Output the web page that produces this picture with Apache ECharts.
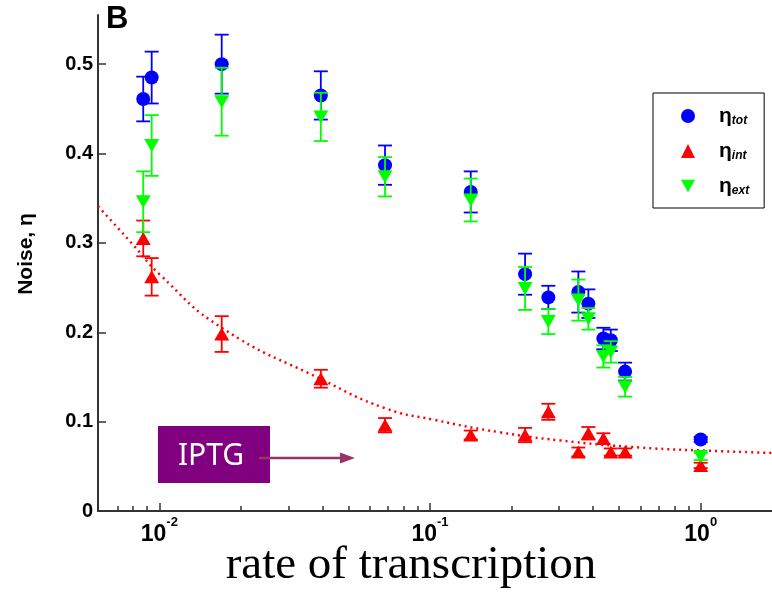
<!DOCTYPE html>
<html>
<head>
<meta charset="utf-8">
<script src="https://cdn.jsdelivr.net/npm/echarts@6/dist/echarts.min.js"></script>
<style>
  html, body { margin: 0; padding: 0; background: #fff; }
  #chart { width: 772px; height: 592px; }
</style>
</head>
<body>
<div id="chart"></div>
<script>
// rate of transcription (shared by the three noise series)
var rate = [0.00872, 0.00937, 0.0170, 0.0395, 0.0682, 0.1414, 0.2245, 0.2736, 0.3532, 0.3846, 0.4369, 0.4654, 0.5256, 1.0];

var etaTot = [0.461, 0.485, 0.500, 0.465, 0.387, 0.357, 0.265, 0.239, 0.245, 0.232, 0.193, 0.191, 0.156, 0.080];
var etaTotErr = [0.025, 0.029, 0.033, 0.027, 0.022, 0.023, 0.023, 0.013, 0.023, 0.016, 0.012, 0.012, 0.010, 0.003];

var etaInt = [0.305, 0.262, 0.198, 0.148, 0.096, 0.085, 0.085, 0.111, 0.066, 0.087, 0.081, 0.066, 0.066, 0.051];
var etaIntErr = [0.020, 0.021, 0.020, 0.010, 0.008, 0.005, 0.008, 0.009, 0.005, 0.007, 0.006, 0.004, 0.004, 0.003];

var etaExt = [0.346, 0.409, 0.458, 0.441, 0.374, 0.348, 0.249, 0.212, 0.236, 0.215, 0.173, 0.178, 0.139, 0.061];
var etaExtErr = [0.034, 0.034, 0.038, 0.027, 0.022, 0.024, 0.024, 0.014, 0.023, 0.012, 0.0125, 0.012, 0.011, 0.004];

// dotted fit curve for eta_int
var fitRate = [0.00594, 0.00799, 0.0100, 0.0170, 0.0399, 0.0682, 0.1036, 0.1817, 0.302, 0.597, 1.18, 1.83];
var fitEta = [0.341, 0.298, 0.265, 0.205, 0.147, 0.115, 0.102, 0.088, 0.079, 0.071, 0.067, 0.065];

var yTicks = [0, 0.1, 0.2, 0.3, 0.4, 0.5];
var xMajor = [0.01, 0.1, 1];
var xMinor = [0.007, 0.008, 0.009, 0.02, 0.03, 0.04, 0.05, 0.06, 0.07, 0.08, 0.09,
              0.2, 0.3, 0.4, 0.5, 0.6, 0.7, 0.8, 0.9];

var subNames = { "η_tot": "tot", "η_int": "int", "η_ext": "ext" };
var downTri = "path://M0,0L10,0L5,9Z";

function zip(x, y) {
  return x.map(function (v, i) { return [v, y[i]]; });
}
function errRows(x, y, e) {
  return x.map(function (v, i) { return [v, y[i] - e[i], y[i] + e[i]]; });
}
function errorBar(color) {
  return function (params, api) {
    var x = api.value(0);
    var lo = api.coord([x, api.value(1)]);
    var hi = api.coord([x, api.value(2)]);
    var w = 7;
    var style = { stroke: color, lineWidth: 1.8 };
    return {
      type: "group",
      children: [
        { type: "line", shape: { x1: lo[0], y1: lo[1], x2: hi[0], y2: hi[1] }, style: style },
        { type: "line", shape: { x1: lo[0] - w, y1: lo[1], x2: lo[0] + w, y2: lo[1] }, style: style },
        { type: "line", shape: { x1: hi[0] - w, y1: hi[1], x2: hi[0] + w, y2: hi[1] }, style: style }
      ]
    };
  };
}

var chart = echarts.init(document.getElementById("chart"));

var option = {
  backgroundColor: "#fff",
  animation: false,
  grid: { left: 98, right: 0, top: 15, bottom: 81 },
  legend: {
    orient: "vertical",
    left: 653,
    top: 93,
    borderColor: "#000",
    borderWidth: 1,
    padding: [12, 15, 11, 28],
    itemGap: 13,
    itemWidth: 14,
    itemHeight: 14,
    data: [
      { name: "η_tot", icon: "circle" },
      { name: "η_int", icon: "triangle" },
      { name: "η_ext", icon: downTri }
    ],
    formatter: function (name) {
      return "{e|η}{s|" + subNames[name] + "}";
    },
    textStyle: {
      padding: [0, 0, 0, 19],
      rich: {
        e: { fontFamily: "Liberation Sans", fontSize: 21, fontWeight: "bold", color: "#000", lineHeight: 22 },
        s: { fontFamily: "Liberation Sans", fontSize: 12, fontWeight: "bold", fontStyle: "italic", color: "#000",
             lineHeight: 12, verticalAlign: "bottom", padding: [10, 0, 0, 0] }
      }
    }
  },
  xAxis: [
    {
      type: "log",
      logBase: 10,
      position: "bottom",
      min: 0.005935,
      max: 1.834,
      axisLine: { lineStyle: { color: "#333", width: 2 } },
      axisTick: { inside: true, length: 8, lineStyle: { color: "#333", width: 1.5 }, customValues: xMajor },
      splitLine: { show: false },
      axisLabel: {
        customValues: xMajor,
        margin: 5,
        formatter: function (v) {
          return "{b|10}{s|" + Math.round(Math.log10(v)) + "}";
        },
        rich: {
          b: { fontFamily: "Liberation Sans", fontSize: 23, fontWeight: "bold", color: "#000", lineHeight: 30, verticalAlign: "bottom" },
          s: { fontFamily: "Liberation Sans", fontSize: 13, fontWeight: "bold", color: "#000", lineHeight: 13, verticalAlign: "top" }
        }
      }
    },
    {
      type: "log",
      logBase: 10,
      position: "bottom",
      offset: 0,
      min: 0.005935,
      max: 1.834,
      axisLine: { show: false },
      axisTick: { inside: true, length: 5, lineStyle: { color: "#333", width: 1.5 }, customValues: xMinor },
      axisLabel: { show: false },
      splitLine: { show: false }
    }
  ],
  yAxis: {
    type: "value",
    min: 0,
    max: 0.555,
    axisLine: { show: true, lineStyle: { color: "#333", width: 2 } },
    axisTick: { show: true, inside: true, length: 8, lineStyle: { color: "#333", width: 1.5 }, customValues: yTicks },
    splitLine: { show: false },
    axisLabel: {
      customValues: yTicks,
      margin: 5,
      fontFamily: "Liberation Sans",
      fontSize: 20,
      fontWeight: "bold",
      color: "#000",
      formatter: function (v) { return v === 0 ? "0" : v.toFixed(1); }
    }
  },
  series: [
    {
      type: "line",
      name: "fit",
      data: zip(fitRate, fitEta),
      smooth: true,
      showSymbol: false,
      symbol: "none",
      lineStyle: { color: "#ff0000", width: 2.5, type: [2, 4] },
      z: 1
    },
    {
      type: "custom",
      name: "tot err",
      data: errRows(rate, etaTot, etaTotErr),
      encode: { x: 0, y: [1, 2] },
      renderItem: errorBar("#0000ff"),
      z: 2
    },
    {
      type: "scatter",
      name: "η_tot",
      data: zip(rate, etaTot),
      symbol: "circle",
      symbolSize: 14,
      itemStyle: { color: "#0000ff", opacity: 1 },
      z: 3
    },
    {
      type: "custom",
      name: "int err",
      data: errRows(rate, etaInt, etaIntErr),
      encode: { x: 0, y: [1, 2] },
      renderItem: errorBar("#ff0000"),
      z: 4
    },
    {
      type: "scatter",
      name: "η_int",
      data: zip(rate, etaInt),
      symbol: "triangle",
      symbolSize: [15, 13],
      itemStyle: { color: "#ff0000", opacity: 1 },
      z: 5
    },
    {
      type: "custom",
      name: "ext err",
      data: errRows(rate, etaExt, etaExtErr),
      encode: { x: 0, y: [1, 2] },
      renderItem: errorBar("#00ff00"),
      z: 6
    },
    {
      type: "scatter",
      name: "η_ext",
      data: zip(rate, etaExt),
      symbol: downTri,
      symbolSize: [15, 13],
      itemStyle: { color: "#00ff00", opacity: 1 },
      z: 7
    }
  ],
  graphic: [
    {
      type: "text",
      left: 106,
      top: 4,
      style: { text: "B", fontFamily: "Liberation Sans", fontSize: 31, fontWeight: "bold", fill: "#000" }
    },
    {
      type: "text",
      x: 26,
      y: 254,
      rotation: Math.PI / 2,
      style: { text: "Noise, η", x: 0, y: 0, align: "center", verticalAlign: "middle",
               fontFamily: "Liberation Sans", fontSize: 21, fontWeight: "bold", fill: "#000" }
    },
    {
      type: "text",
      x: 411,
      y: 566,
      style: { text: "rate of transcription", align: "center", verticalAlign: "middle",
               fontFamily: "Liberation Serif", fontSize: 47, fill: "#000" }
    },
    {
      type: "rect",
      shape: { x: 158, y: 426, width: 112, height: 57 },
      style: { fill: "#800080" }
    },
    {
      type: "text",
      x: 211,
      y: 456,
      style: { text: "IPTG", align: "center", verticalAlign: "middle",
               fontFamily: "Noto Sans", fontSize: 30, fill: "#fff" }
    },
    {
      type: "line",
      shape: { x1: 259, y1: 458, x2: 342, y2: 458 },
      style: { stroke: "#993366", lineWidth: 2.7 }
    },
    {
      type: "polygon",
      shape: { points: [[340, 452.5], [355, 458], [340, 463.5]] },
      style: { fill: "#993366" }
    }
  ]
};

chart.setOption(option);
</script>
</body>
</html>
